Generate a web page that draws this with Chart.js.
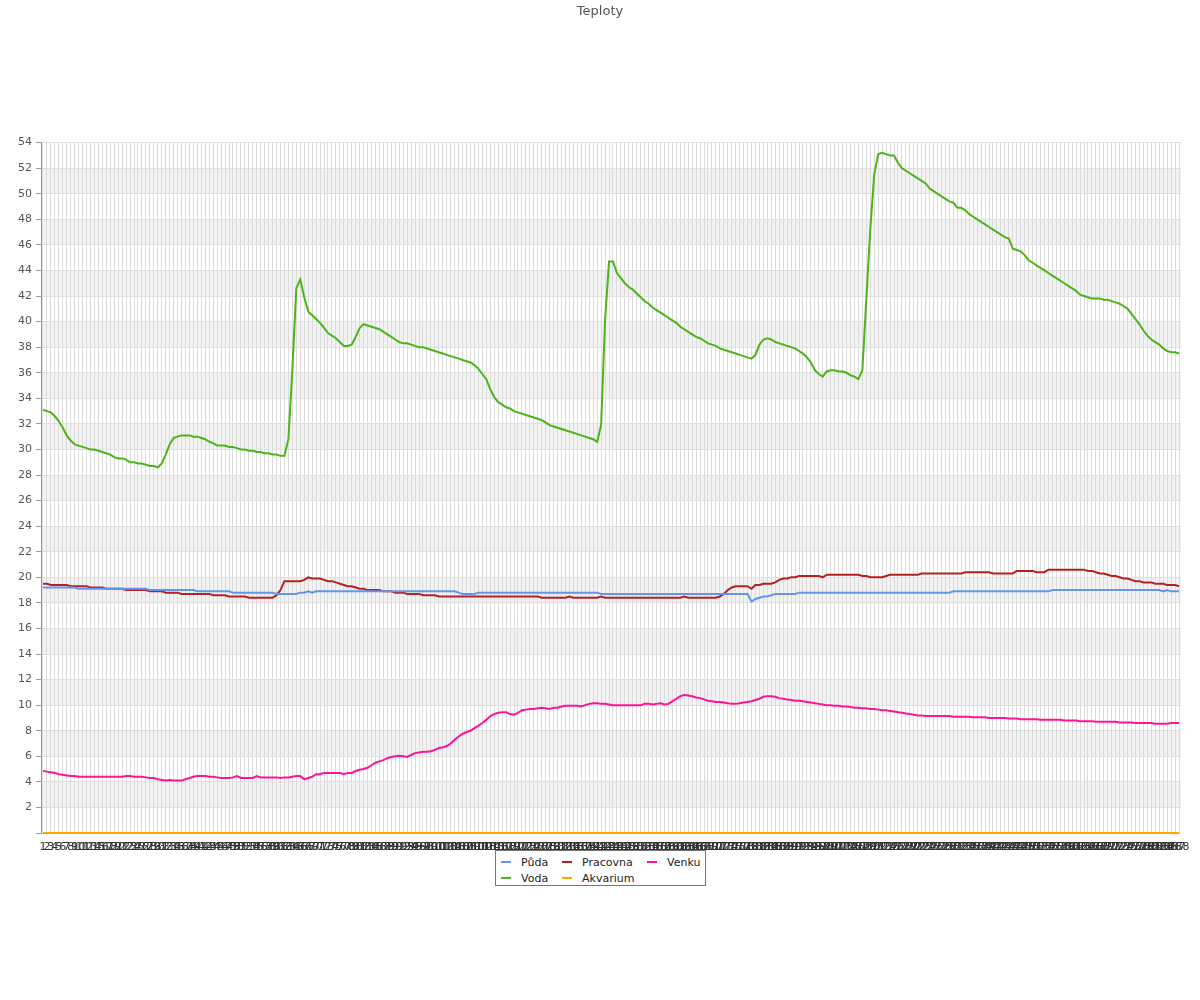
<!DOCTYPE html>
<html>
<head>
<meta charset="utf-8">
<script src="https://cdn.jsdelivr.net/npm/chart.js@4"></script>
<style>
  html, body { margin: 0; padding: 0; background: #fff; }
  #wrap { position: relative; width: 1200px; height: 1000px; }
  #legend {
    position: absolute; left: 495px; top: 850px; width: 211px; height: 36px;
    border: 1px solid #777; background: #fff;
    display: grid; grid-template-rows: 16px 16px; grid-auto-flow: column;
    grid-template-columns: 61px 85px 63px; padding-top: 3px; box-sizing: border-box;
    font: 11px 'DejaVu Sans', sans-serif; color: #222;
  }
  #legend .item { display: flex; align-items: center; padding-left: 5px; }
  #legend .sw { width: 10px; height: 2px; margin-right: 10px; }
</style>
</head>
<body>
<div id="wrap">
  <canvas id="tempChart" width="1200" height="1000"></canvas>
  <div id="legend"></div>
</div>
<script>
'use strict';

// x categories (5-minute samples of a day)
const labels = [
  '1','2','3','4','5','6','7','8','9','10','11','12','13','14','15','16','17','18','19','20','21','22','23','24',
  '25','26','27','28','29','30','31','32','33','34','35','36','37','38','39','40','41','42','43','44','45','46','47','48',
  '49','50','51','52','53','54','55','56','57','58','59','60','61','62','63','64','65','66','67','68','69','70','71','72',
  '73','74','75','76','77','78','79','80','81','82','83','84','85','86','87','88','89','90','91','92','93','94','95','96',
  '97','98','99','100','101','102','103','104','105','106','107','108','109','110','111','112','113','114','115','116','117','118','119','120',
  '121','122','123','124','125','126','127','128','129','130','131','132','133','134','135','136','137','138','139','140','141','142','143','144',
  '145','146','147','148','149','150','151','152','153','154','155','156','157','158','159','160','161','162','163','164','165','166','167','168',
  '169','170','171','172','173','174','175','176','177','178','179','180','181','182','183','184','185','186','187','188','189','190','191','192',
  '193','194','195','196','197','198','199','200','201','202','203','204','205','206','207','208','209','210','211','212','213','214','215','216',
  '217','218','219','220','221','222','223','224','225','226','227','228','229','230','231','232','233','234','235','236','237','238','239','240',
  '241','242','243','244','245','246','247','248','249','250','251','252','253','254','255','256','257','258','259','260','261','262','263','264',
  '265','266','267','268','269','270','271','272','273','274','275','276','277','278','279','280','281','282','283','284','285','286','287','288'
];

const pudaValues = [
  19.2,19.2,19.2,19.2,19.2,19.2,19.2,19.2,19.2,19.1,19.1,19.1,
  19.1,19.1,19.1,19.1,19.1,19.1,19.1,19.1,19.1,19.1,19.1,19.1,
  19.1,19.1,19.1,19.0,19.0,19.0,19.0,19.0,19.0,19.0,19.0,19.0,
  19.0,19.0,19.0,18.9,18.9,18.9,18.9,18.9,18.9,18.9,18.9,18.9,
  18.8,18.8,18.8,18.8,18.8,18.8,18.8,18.8,18.8,18.8,18.8,18.7,
  18.7,18.7,18.7,18.7,18.7,18.8,18.8,18.9,18.8,18.9,18.9,18.9,
  18.9,18.9,18.9,18.9,18.9,18.9,18.9,18.9,18.9,18.9,18.9,18.9,
  18.9,18.9,18.9,18.9,18.9,18.9,18.9,18.9,18.9,18.9,18.9,18.9,
  18.9,18.9,18.9,18.9,18.9,18.9,18.9,18.9,18.9,18.8,18.7,18.7,
  18.7,18.7,18.8,18.8,18.8,18.8,18.8,18.8,18.8,18.8,18.8,18.8,
  18.8,18.8,18.8,18.8,18.8,18.8,18.8,18.8,18.8,18.8,18.8,18.8,
  18.8,18.8,18.8,18.8,18.8,18.8,18.8,18.8,18.8,18.7,18.7,18.7,
  18.7,18.7,18.7,18.7,18.7,18.7,18.7,18.7,18.7,18.7,18.7,18.7,
  18.7,18.7,18.7,18.7,18.7,18.7,18.7,18.7,18.7,18.7,18.7,18.7,
  18.7,18.7,18.7,18.7,18.7,18.7,18.7,18.7,18.7,18.7,18.7,18.1,
  18.3,18.4,18.5,18.5,18.6,18.7,18.7,18.7,18.7,18.7,18.7,18.8,
  18.8,18.8,18.8,18.8,18.8,18.8,18.8,18.8,18.8,18.8,18.8,18.8,
  18.8,18.8,18.8,18.8,18.8,18.8,18.8,18.8,18.8,18.8,18.8,18.8,
  18.8,18.8,18.8,18.8,18.8,18.8,18.8,18.8,18.8,18.8,18.8,18.8,
  18.8,18.8,18.9,18.9,18.9,18.9,18.9,18.9,18.9,18.9,18.9,18.9,
  18.9,18.9,18.9,18.9,18.9,18.9,18.9,18.9,18.9,18.9,18.9,18.9,
  18.9,18.9,18.9,19.0,19.0,19.0,19.0,19.0,19.0,19.0,19.0,19.0,
  19.0,19.0,19.0,19.0,19.0,19.0,19.0,19.0,19.0,19.0,19.0,19.0,
  19.0,19.0,19.0,19.0,19.0,19.0,19.0,18.9,19.0,18.9,18.9,18.9
];

const vodaValues = [
  33.1,33.0,32.9,32.6,32.2,31.7,31.1,30.7,30.4,30.3,30.2,30.1,
  30.0,30.0,29.9,29.8,29.7,29.6,29.4,29.3,29.3,29.2,29.0,29.0,
  28.9,28.9,28.8,28.7,28.7,28.6,28.9,29.6,30.4,30.9,31.0,31.1,
  31.1,31.1,31.0,31.0,30.9,30.8,30.6,30.5,30.3,30.3,30.3,30.2,
  30.2,30.1,30.0,30.0,29.9,29.9,29.8,29.8,29.7,29.7,29.6,29.6,
  29.5,29.5,30.8,36.2,42.6,43.3,41.9,40.8,40.5,40.2,39.9,39.5,
  39.1,38.9,38.7,38.4,38.1,38.1,38.2,38.8,39.5,39.8,39.7,39.6,
  39.5,39.4,39.2,39.0,38.8,38.6,38.4,38.3,38.3,38.2,38.1,38.0,
  38.0,37.9,37.8,37.7,37.6,37.5,37.4,37.3,37.2,37.1,37.0,36.9,
  36.8,36.6,36.3,35.9,35.5,34.7,34.1,33.7,33.5,33.3,33.2,33.0,
  32.9,32.8,32.7,32.6,32.5,32.4,32.3,32.1,31.9,31.8,31.7,31.6,
  31.5,31.4,31.3,31.2,31.1,31.0,30.9,30.8,30.6,31.9,40.1,44.7,
  44.7,43.8,43.4,43.0,42.7,42.5,42.2,41.9,41.6,41.4,41.1,40.9,
  40.7,40.5,40.3,40.1,39.9,39.6,39.4,39.2,39.0,38.8,38.7,38.5,
  38.3,38.2,38.1,37.9,37.8,37.7,37.6,37.5,37.4,37.3,37.2,37.1,
  37.4,38.2,38.6,38.7,38.6,38.4,38.3,38.2,38.1,38.0,37.9,37.7,
  37.5,37.2,36.8,36.2,35.9,35.7,36.1,36.2,36.2,36.1,36.1,36.0,
  35.8,35.7,35.5,36.2,41.7,47.2,51.5,53.1,53.2,53.1,53.0,53.0,
  52.4,52.0,51.8,51.6,51.4,51.2,51.0,50.8,50.4,50.2,50.0,49.8,
  49.6,49.4,49.3,48.9,48.9,48.7,48.4,48.2,48.0,47.8,47.6,47.4,
  47.2,47.0,46.8,46.6,46.5,45.7,45.6,45.5,45.2,44.8,44.6,44.4,
  44.2,44.0,43.8,43.6,43.4,43.2,43.0,42.8,42.6,42.4,42.1,42.0,
  41.9,41.8,41.8,41.8,41.7,41.7,41.6,41.5,41.4,41.2,41.0,40.6,
  40.2,39.8,39.3,38.9,38.6,38.4,38.2,37.9,37.7,37.6,37.6,37.5
];

const pracovnaValues = [
  19.5,19.5,19.4,19.4,19.4,19.4,19.4,19.3,19.3,19.3,19.3,19.3,
  19.2,19.2,19.2,19.2,19.1,19.1,19.1,19.1,19.1,19.0,19.0,19.0,
  19.0,19.0,19.0,18.9,18.9,18.9,18.9,18.8,18.8,18.8,18.8,18.7,
  18.7,18.7,18.7,18.7,18.7,18.7,18.7,18.6,18.6,18.6,18.6,18.5,
  18.5,18.5,18.5,18.5,18.4,18.4,18.4,18.4,18.4,18.4,18.4,18.6,
  19.0,19.7,19.7,19.7,19.7,19.7,19.8,20.0,19.9,19.9,19.9,19.8,
  19.7,19.7,19.6,19.5,19.4,19.3,19.3,19.2,19.1,19.1,19.0,19.0,
  19.0,19.0,18.9,18.9,18.9,18.8,18.8,18.8,18.7,18.7,18.7,18.7,
  18.6,18.6,18.6,18.6,18.5,18.5,18.5,18.5,18.5,18.5,18.5,18.5,
  18.5,18.5,18.5,18.5,18.5,18.5,18.5,18.5,18.5,18.5,18.5,18.5,
  18.5,18.5,18.5,18.5,18.5,18.5,18.4,18.4,18.4,18.4,18.4,18.4,
  18.4,18.5,18.4,18.4,18.4,18.4,18.4,18.4,18.4,18.5,18.4,18.4,
  18.4,18.4,18.4,18.4,18.4,18.4,18.4,18.4,18.4,18.4,18.4,18.4,
  18.4,18.4,18.4,18.4,18.4,18.4,18.5,18.4,18.4,18.4,18.4,18.4,
  18.4,18.4,18.4,18.5,18.7,19.0,19.2,19.3,19.3,19.3,19.3,19.1,
  19.4,19.4,19.5,19.5,19.5,19.6,19.8,19.9,19.9,20.0,20.0,20.1,
  20.1,20.1,20.1,20.1,20.1,20.0,20.2,20.2,20.2,20.2,20.2,20.2,
  20.2,20.2,20.2,20.1,20.1,20.0,20.0,20.0,20.0,20.1,20.2,20.2,
  20.2,20.2,20.2,20.2,20.2,20.2,20.3,20.3,20.3,20.3,20.3,20.3,
  20.3,20.3,20.3,20.3,20.3,20.4,20.4,20.4,20.4,20.4,20.4,20.4,
  20.3,20.3,20.3,20.3,20.3,20.3,20.5,20.5,20.5,20.5,20.5,20.4,
  20.4,20.4,20.6,20.6,20.6,20.6,20.6,20.6,20.6,20.6,20.6,20.6,
  20.5,20.5,20.4,20.3,20.3,20.2,20.1,20.1,20.0,19.9,19.9,19.8,
  19.7,19.7,19.6,19.6,19.6,19.5,19.5,19.5,19.4,19.4,19.4,19.3
];

const akvariumValues = [
  0,0,0,0,0,0,0,0,0,0,0,0, 0,0,0,0,0,0,0,0,0,0,0,0,
  0,0,0,0,0,0,0,0,0,0,0,0, 0,0,0,0,0,0,0,0,0,0,0,0,
  0,0,0,0,0,0,0,0,0,0,0,0, 0,0,0,0,0,0,0,0,0,0,0,0,
  0,0,0,0,0,0,0,0,0,0,0,0, 0,0,0,0,0,0,0,0,0,0,0,0,
  0,0,0,0,0,0,0,0,0,0,0,0, 0,0,0,0,0,0,0,0,0,0,0,0,
  0,0,0,0,0,0,0,0,0,0,0,0, 0,0,0,0,0,0,0,0,0,0,0,0,
  0,0,0,0,0,0,0,0,0,0,0,0, 0,0,0,0,0,0,0,0,0,0,0,0,
  0,0,0,0,0,0,0,0,0,0,0,0, 0,0,0,0,0,0,0,0,0,0,0,0,
  0,0,0,0,0,0,0,0,0,0,0,0, 0,0,0,0,0,0,0,0,0,0,0,0,
  0,0,0,0,0,0,0,0,0,0,0,0, 0,0,0,0,0,0,0,0,0,0,0,0,
  0,0,0,0,0,0,0,0,0,0,0,0, 0,0,0,0,0,0,0,0,0,0,0,0,
  0,0,0,0,0,0,0,0,0,0,0,0, 0,0,0,0,0,0,0,0,0,0,0,0
];

const venkuValues = [
  4.85,4.8,4.75,4.7,4.6,4.55,4.5,4.45,4.45,4.4,4.4,4.4,
  4.4,4.4,4.4,4.4,4.4,4.4,4.4,4.4,4.4,4.45,4.45,4.4,
  4.4,4.4,4.35,4.3,4.3,4.2,4.15,4.1,4.15,4.1,4.1,4.1,
  4.2,4.3,4.4,4.45,4.45,4.45,4.4,4.4,4.35,4.3,4.3,4.3,
  4.35,4.45,4.3,4.3,4.3,4.3,4.45,4.35,4.35,4.35,4.35,4.35,
  4.3,4.35,4.35,4.4,4.45,4.45,4.2,4.3,4.4,4.6,4.6,4.7,
  4.7,4.7,4.7,4.7,4.6,4.7,4.7,4.85,4.95,5.0,5.1,5.3,
  5.5,5.6,5.7,5.85,5.95,6.0,6.05,6.0,5.95,6.1,6.25,6.3,
  6.35,6.35,6.4,6.5,6.65,6.7,6.8,7.0,7.3,7.55,7.75,7.9,
  8.0,8.2,8.4,8.6,8.85,9.15,9.3,9.4,9.45,9.45,9.3,9.25,
  9.4,9.6,9.65,9.7,9.7,9.75,9.8,9.75,9.7,9.8,9.8,9.9,
  9.95,9.95,9.95,9.95,9.9,10.0,10.1,10.15,10.15,10.1,10.1,10.05,
  10.0,10.0,10.0,10.0,10.0,10.0,10.0,10.0,10.1,10.1,10.05,10.1,
  10.15,10.05,10.1,10.3,10.5,10.7,10.8,10.75,10.7,10.6,10.55,10.45,
  10.35,10.3,10.25,10.25,10.2,10.15,10.1,10.1,10.15,10.2,10.25,10.3,
  10.4,10.5,10.65,10.7,10.7,10.65,10.55,10.5,10.45,10.4,10.35,10.35,
  10.3,10.25,10.2,10.15,10.1,10.05,10.0,10.0,9.95,9.95,9.9,9.9,
  9.85,9.8,9.8,9.75,9.75,9.7,9.7,9.65,9.6,9.6,9.55,9.5,
  9.45,9.4,9.35,9.3,9.25,9.2,9.2,9.15,9.15,9.15,9.15,9.15,
  9.15,9.15,9.1,9.1,9.1,9.1,9.1,9.05,9.05,9.05,9.05,9.0,
  9.0,9.0,9.0,9.0,8.95,8.95,8.95,8.9,8.9,8.9,8.9,8.9,
  8.85,8.85,8.85,8.85,8.85,8.85,8.8,8.8,8.8,8.8,8.75,8.75,
  8.75,8.75,8.7,8.7,8.7,8.7,8.7,8.7,8.65,8.65,8.65,8.65,
  8.6,8.6,8.6,8.6,8.6,8.55,8.55,8.55,8.55,8.6,8.6,8.6
];

const FONT = "'DejaVu Sans', sans-serif";

const SERIES = [
  { label: 'Půda',     data: pudaValues,     color: '#6495ed' },
  { label: 'Voda',     data: vodaValues,     color: '#4cb41a' },
  { label: 'Pracovna', data: pracovnaValues, color: '#b22222' },
  { label: 'Akvarium', data: akvariumValues, color: '#ffa500' },
  { label: 'Venku',    data: venkuValues,    color: '#ff1493' },
];

// alternating grey bands every 2 degrees
const bandsPlugin = {
  id: 'bands',
  beforeDraw(chart) {
    const { ctx, chartArea: a, scales: { y } } = chart;
    ctx.save();
    ctx.fillStyle = '#f2f2f2';
    for (let v = 2; v < y.max; v += 4) {
      const top = y.getPixelForValue(v + 2);
      const bot = y.getPixelForValue(v);
      ctx.fillRect(a.left, top, a.right - a.left, bot - top);
    }
    ctx.restore();
  }
};

new Chart(document.getElementById('tempChart'), {
  type: 'line',
  data: {
    labels,
    datasets: SERIES.map(s => ({
      label: s.label, data: s.data,
      borderColor: s.color, backgroundColor: s.color,
      borderWidth: 2, pointRadius: 0, tension: 0, fill: false, clip: 3,
    }))
  },
  options: {
    responsive: false,
    animation: false,
    layout: { padding: { left: 0, right: 0, top: 0, bottom: 147 } },
    plugins: {
      legend: { display: false },
      tooltip: { enabled: false },
      title: {
        display: true, text: 'Teploty', color: '#555',
        font: { family: FONT, size: 13, weight: 'normal' },
        padding: { top: 4, bottom: 123 }
      }
    },
    scales: {
      x: {
        offset: true,
        grid: { offset: false, color: '#dcdcdc', drawTicks: false },
        border: { display: false },
        ticks: { autoSkip: false, maxRotation: 0, minRotation: 0, padding: 8, color: '#333', font: { family: FONT, size: 11 } },
        afterFit: s => { s.height = 20; }
      },
      y: {
        min: 0, max: 54,
        grid: {
          color: c => (c.tick && c.tick.value % 2 === 0) ? '#e0e0e0' : 'rgba(0,0,0,0)',
          tickColor: '#999', tickLength: 5
        },
        border: { color: '#999' },
        ticks: {
          stepSize: 1, padding: 4, color: '#555', font: { family: FONT, size: 11 },
          callback: v => (v % 2 === 0 && v !== 0) ? v : ''
        },
        afterFit: s => { s.width = 41; }
      },
      yr: {
        position: 'right', min: 0, max: 1,
        grid: { display: false, drawTicks: false },
        border: { display: false },
        ticks: { display: false },
        afterFit: s => { s.width = 19; }
      }
    }
  },
  plugins: [bandsPlugin]
});

// legend laid out column by column like the original
const legendEl = document.getElementById('legend');
SERIES.forEach(s => {
  const item = document.createElement('div');
  item.className = 'item';
  item.innerHTML = '<span class="sw" style="background:' + s.color + '"></span><span>' + s.label + '</span>';
  legendEl.appendChild(item);
});
</script>
</body>
</html>
